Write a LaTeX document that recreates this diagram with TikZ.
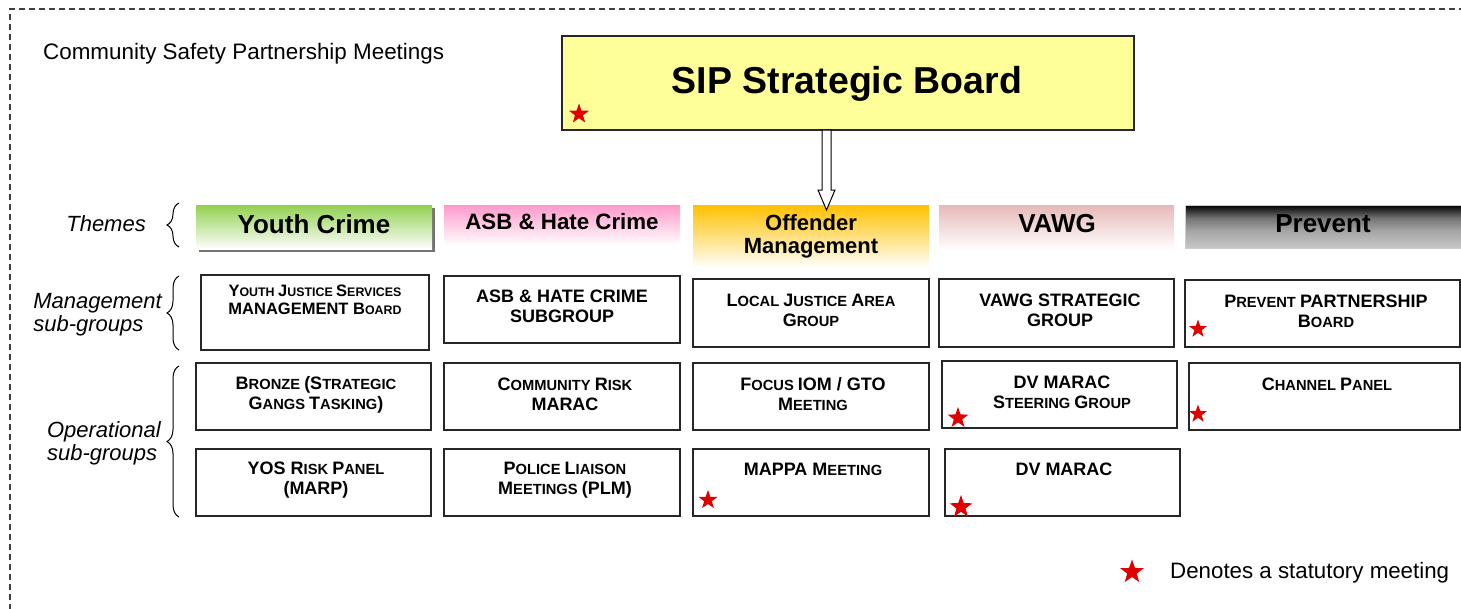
\documentclass[tikz,border=0pt]{standalone}
\usepackage{fontspec}
\setmainfont{Liberation Sans}
\usetikzlibrary{shapes.geometric,decorations.pathreplacing}
\definecolor{starred}{RGB}{225,0,0}
\definecolor{sipyellow}{RGB}{255,255,153}
\definecolor{ygreen}{RGB}{146,208,80}
\definecolor{apink}{RGB}{255,153,204}
\definecolor{oorange}{RGB}{255,192,0}
\definecolor{vrose}{RGB}{230,185,184}
\pgfdeclareverticalshading{prevsh}{100bp}{color(0bp)=(black!22); color(25bp)=(black!22); color(45bp)=(black!35); color(60bp)=(black!55); color(70bp)=(black!85); color(75bp)=(black); color(100bp)=(black)}
\def\bigsz{18}
\newcommand\Bl[1]{{\fontsize{\bigsz}{20}\selectfont #1}}
\newcommand\Rbox[5]{\node[box, minimum width={(#4)-(#2)}, minimum height={(#5)-(#3)}] (#1) at ({((#2)+(#4))/2},{((#3)+(#5))/2}) {};}
\tikzset{
  box/.style={draw=black!85, line width=1.3pt, fill=white, inner sep=0pt, outer sep=0pt},
  txt/.style={font=\fontsize{14.7}{20}\selectfont\bfseries, align=center, inner sep=0pt},
  hdr/.style={inner sep=0pt, outer sep=0pt, draw=none},
  htxt/.style={font=\fontsize{26}{28}\selectfont\bfseries, align=center, inner sep=0pt},
  lbl/.style={font=\fontsize{22}{23}\selectfont\itshape, align=left, inner sep=0pt, anchor=east},
  redstar/.style={star, star points=5, star point ratio=2.5, fill=starred, draw=none, inner sep=0pt},
  bracket/.style={decorate, decoration={brace, amplitude=12pt}, line width=1pt},
}
\begin{document}
\begin{tikzpicture}[x=1pt,y=-1pt]
\useasboundingbox (0,0) rectangle (1461,608);
% dashed frame
\draw[dashed, dash pattern=on 6pt off 4pt, line width=1.2pt, black!75] (10,620) -- (10,9) -- (1475,9);
\node[anchor=west, inner sep=0pt, font=\fontsize{22.4}{24}\selectfont] (title) at (43,54) {Community Safety Partnership Meetings};

% SIP board
\Rbox{sip}{562}{36}{1134}{130}
\fill[sipyellow] (sip.south west) rectangle (sip.north east);
\draw[black!85, line width=1.2pt] (sip.south west) rectangle (sip.north east);
\node[inner sep=0pt, font=\fontsize{37.5}{40}\selectfont\bfseries] (siptxt) at (847,84) {SIP Strategic Board};
\node[redstar, minimum size=21pt] (s0) at (579,114) {};

% theme headers
\fill[black!55] (199,208) rectangle (435,252);
\node[hdr, minimum width=236, minimum height=44, top color=ygreen, bottom color=white] (yh) at (314,227) {};
\node[hdr, minimum width=236, minimum height=40, top color=apink, bottom color=white] (ah) at (562,225) {};
\node[hdr, minimum width=236, minimum height=63, top color=oorange, bottom color=white] (oh) at (811,236.5) {};
\node[hdr, minimum width=235, minimum height=45, top color=vrose, bottom color=white] (vh) at (1056.5,227.5) {};
\node[hdr, minimum width=277, minimum height=43, shading=prevsh] (ph) at (1323.5,226.5) {};
\draw[black!20, line width=0.8pt] (ph.south west) rectangle (ph.north east);

\node[htxt] (yht) at (314,224) {Youth Crime};
\node[htxt, font=\fontsize{22.3}{24}\selectfont\bfseries] (aht) at (562,222) {ASB \& Hate Crime};
\node[htxt, font=\fontsize{22}{23}\selectfont\bfseries] (oht) at (811,236.5) {Offender\\Management};
\node[htxt] (vht) at (1057,224) {VAWG};
\node[htxt] (pht) at (1323,224) {Prevent};

% arrow from board to themes
\coordinate (atop) at (826.5,130);
\coordinate (atip) at (826.5,210);
\filldraw[fill=white, draw=black, line width=1pt]
  ([xshift=-4.5]atop) -- ([xshift=-4.5,yshift=20]atip) -- ([xshift=-8.5,yshift=20]atip) -- (atip)
  -- ([xshift=8.5,yshift=20]atip) -- ([xshift=4.5,yshift=20]atip) -- ([xshift=4.5]atop) -- cycle;

% left labels and braces
\node[lbl] (lth) at (146,224) {Themes};
\node[lbl] (lmg) at (162,315) {Management\\sub-groups};
\node[lbl] (lop) at (161,443) {Operational\\sub-groups};
\draw[bracket] (179,247) -- (179,203);
\draw[bracket] (179,350) -- (179,276);
\draw[bracket] (179,517) -- (179,366);

% management row
\Rbox{ym}{201}{275}{429}{350}
\Rbox{am}{444}{276}{680}{343}
\Rbox{om}{693}{279}{929}{347}
\Rbox{vm}{939}{279}{1174}{347}
\Rbox{pm}{1185}{280}{1460}{347}
% operational row 1
\Rbox{yo1}{196}{363}{431}{430}
\Rbox{ao1}{444}{363}{680}{430}
\Rbox{oo1}{693}{363}{929}{430}
\Rbox{vo1}{942}{361}{1177}{428}
\Rbox{po1}{1189}{363}{1460}{430}
% operational row 2
\Rbox{yo2}{196}{449}{431}{516}
\Rbox{ao2}{444}{449}{680}{516}
\Rbox{oo2}{693}{449}{929}{516}
\Rbox{vo2}{945}{449}{1180}{516}

% texts
\node[txt, font=\fontsize{12.4}{18}\selectfont\bfseries\def\bigsz{16.5}] (tym) at (315,299.5) {\Bl{Y}OUTH \Bl{J}USTICE \Bl{S}ERVICES\\\Bl{MANAGEMENT B}OARD};
\node[txt] (tam) at (562,306.5) {\Bl{ASB \& HATE CRIME}\\\Bl{SUBGROUP}};
\node[txt] (tom) at (811,310.5) {\Bl{L}OCAL \Bl{J}USTICE \Bl{A}REA\\\Bl{G}ROUP};
\node[txt] (tvm) at (1060,310.5) {\Bl{VAWG STRATEGIC}\\\Bl{GROUP}};
\node[txt] (tpm) at (1326,311) {\Bl{P}REVENT \Bl{PARTNERSHIP}\\\Bl{B}OARD};

\node[txt] (tyo1) at (316,394.5) {\Bl{B}RONZE \Bl{(S}TRATEGIC\\\Bl{G}ANGS \Bl{T}ASKING\Bl{)}};
\node[txt] (tao1) at (565,394.5) {\Bl{C}OMMUNITY \Bl{R}ISK\\\Bl{MARAC}};
\node[txt] (too1) at (813,394.5) {\Bl{F}OCUS \Bl{IOM / GTO}\\\Bl{M}EETING};
\node[txt] (tvo1) at (1062,392.5) {\Bl{DV MARAC}\\\Bl{S}TEERING \Bl{G}ROUP};
\node[txt] (tpo1) at (1327,384) {\Bl{C}HANNEL \Bl{P}ANEL};

\node[txt] (tyo2) at (316,480) {\Bl{YOS R}ISK \Bl{P}ANEL\\\Bl{(MARP)}};
\node[txt] (tao2) at (565,480) {\Bl{P}OLICE \Bl{L}IAISON\\\Bl{M}EETINGS \Bl{(PLM)}};
\node[txt] (too2) at (813,469) {\Bl{MAPPA M}EETING};
\node[txt] (tvo2) at (1064,469) {\Bl{DV MARAC}};

% statutory stars
\node[redstar, minimum size=19pt] (s1) at (1198,329) {};
\node[redstar, minimum size=22pt] (s2) at (958,418) {};
\node[redstar, minimum size=19pt] (s3) at (1198,414) {};
\node[redstar, minimum size=20pt] (s4) at (708,500) {};
\node[redstar, minimum size=24pt] (s5) at (961,507) {};

% legend
\node[redstar, minimum size=25pt] (ls) at (1132,572) {};
\node[anchor=west, inner sep=0pt, font=\fontsize{22.3}{24}\selectfont] (lt) at (1170,573) {Denotes a statutory meeting};
\end{tikzpicture}
\end{document}
